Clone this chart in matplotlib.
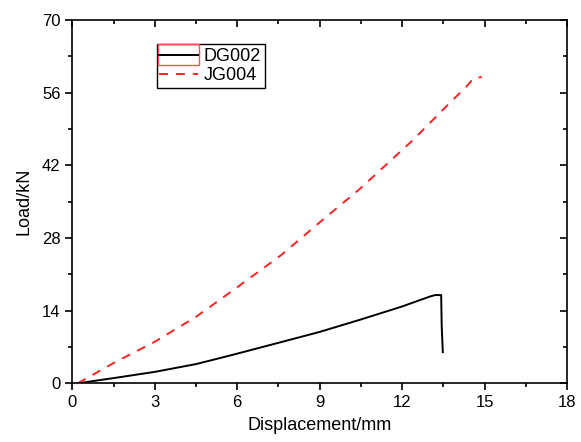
import matplotlib.pyplot as plt
from matplotlib.lines import Line2D
from matplotlib.patches import Rectangle
from matplotlib.legend_handler import HandlerBase
from matplotlib.ticker import MultipleLocator

plt.rcParams['font.family'] = ['Liberation Sans', 'DejaVu Sans']

# Load-displacement curves
dg002_disp = [0.2, 1.5, 3.0, 4.5, 5.7, 7.5, 9.0, 10.5, 12.0, 13.0, 13.2, 13.42, 13.44, 13.48]
dg002_load = [0.0, 1.0, 2.2, 3.7, 5.3, 7.8, 9.9, 12.3, 14.8, 16.7, 17.0, 17.0, 11.0, 6.0]

jg004_disp = [0.2, 1.5, 3.0, 4.5, 6.0, 7.6, 9.0, 10.45, 12.38, 13.71, 14.38, 14.6, 14.9]
jg004_load = [0.0, 3.9, 8.0, 12.8, 18.5, 24.7, 31.0, 37.4, 46.8, 53.9, 57.4, 58.8, 59.0]

x_ticks = [0, 3, 6, 9, 12, 15, 18]
y_ticks = [0, 14, 28, 42, 56, 70]


class FlushLineHandler(HandlerBase):
    """Line sample that runs out to the legend frame, optionally boxed in red."""
    def __init__(self, boxed=False):
        super().__init__()
        self.boxed = boxed

    def create_artists(self, legend, orig_handle, xdescent, ydescent,
                       width, height, fontsize, trans):
        pad = legend.borderpad * fontsize - 0.5
        x0 = -xdescent - pad
        x1 = -xdescent + width
        yc = height / 2 - ydescent
        artists = []
        if self.boxed:
            box_h = 14.8
            artists.append(Rectangle((x0, yc - box_h / 2), x1 - x0, box_h,
                                     facecolor='none', edgecolor='#ff5050', lw=1.0,
                                     transform=trans))
        artists.append(Line2D([x0 + 0.7, x1 - 0.7], [yc, yc],
                              color=orig_handle.get_color(),
                              lw=orig_handle.get_linewidth(),
                              ls=orig_handle.get_linestyle(),
                              dashes=(4.6, 4.1) if orig_handle.get_linestyle() == '--' else (None, None),
                              transform=trans))
        return artists


fig = plt.figure(figsize=(5.81, 4.42), dpi=100)
ax = fig.add_axes([0.1244, 0.1328, 0.8516, 0.822])

l1, = ax.plot(dg002_disp, dg002_load, color='black', lw=1.4)
l2, = ax.plot(jg004_disp, jg004_load, color='#ff2020', lw=1.4, ls='--', dashes=(4.6, 4.1))

ax.set_xlim(0, 18)
ax.set_ylim(0, 70)
ax.set_xticks(x_ticks)
ax.set_yticks(y_ticks)
ax.xaxis.set_minor_locator(MultipleLocator(1.5))
ax.yaxis.set_minor_locator(MultipleLocator(7))

for s in ax.spines.values():
    s.set_linewidth(1.2)

ax.tick_params(which='both', bottom=True, left=True, direction='out', width=1.2, labelsize=12)
ax.tick_params(which='major', length=5)
ax.tick_params(which='minor', length=3)
# inward ticks on the top and right edges
ax.tick_params(which='both', top=True, right=True, labeltop=False, labelright=False)
for tk in ax.xaxis.get_major_ticks() + ax.xaxis.get_minor_ticks():
    tk.tick2line.set_marker(3)
for tk in ax.yaxis.get_major_ticks() + ax.yaxis.get_minor_ticks():
    tk.tick2line.set_marker(0)

ax.set_xlabel('Displacement/mm', fontsize=13, labelpad=5)
ax.set_ylabel('Load/kN', fontsize=13, labelpad=7)

leg = ax.legend([l1, l2], ['DG002', 'JG004'], loc='upper left',
                bbox_to_anchor=(0.171, 0.934), borderaxespad=0,
                fancybox=False, framealpha=1, edgecolor='black',
                fontsize=13, handlelength=2.1, handletextpad=0.25,
                labelspacing=0.12, borderpad=0.22,
                handler_map={l1: FlushLineHandler(boxed=True),
                             l2: FlushLineHandler()})
leg.get_frame().set_linewidth(1.0)

fig.savefig('out.png', dpi=100)
